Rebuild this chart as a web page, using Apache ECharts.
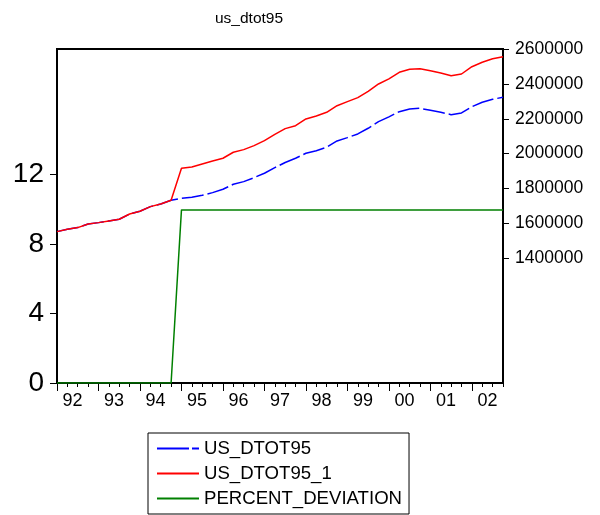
<!DOCTYPE html>
<html>
<head>
<meta charset="utf-8">
<script src="https://cdn.jsdelivr.net/npm/echarts@6/dist/echarts.min.js"></script>
<style>
html,body{margin:0;padding:0;background:#fff;}
#c{width:600px;height:515px;}
</style>
</head>
<body>
<div id="c"></div>
<script>
// Quarterly observations 1992Q1 .. 2002Q4 (44 obs)
var yearLabels = ['92','93','94','95','96','97','98','99','00','01','02'];
var usDtot95 = [
  1553000,1566700,1576000,1597000,1604500,1614300,1624000,1654000,1670000,1696200,1711700,1732900,
  1744400,1750100,1761500,1776500,1796000,1824600,1839500,1862400,1887600,1919700,1949500,1973600,
  2002300,2017000,2036600,2072700,2091700,2112900,2145500,2183400,2211000,2240700,2256100,2260000,
  2248700,2237200,2223500,2233200,2269300,2294500,2311700,2323200
];
var usDtot95_1 = [
  1553000,1566700,1576000,1597000,1604500,1614300,1624000,1654000,1670000,1696200,1711700,1732900,
  1916300,1923700,1941000,1958000,1973600,2008000,2023000,2046000,2074500,2111000,2143500,2160500,
  2199000,2216000,2237200,2275000,2298000,2321000,2357600,2399400,2429000,2466500,2483700,2487100,
  2475600,2462500,2447000,2456700,2498600,2523800,2544400,2555900
];
var percentDeviation = [
  0,0,0,0,0,0,0,0,0,0,0,0,
  9.95,9.95,9.95,9.95,9.95,9.95,9.95,9.95,9.95,9.95,9.95,9.95,
  9.95,9.95,9.95,9.95,9.95,9.95,9.95,9.95,9.95,9.95,9.95,9.95,
  9.95,9.95,9.95,9.95,9.95,9.95,9.95,9.95
];
var leftTicks = [0,4,8,12];
var rightTicks = [1400000,1600000,1800000,2000000,2200000,2400000,2600000];

var n = usDtot95.length;
var minorTicks = [], majorTicks = [], labelPos = [];
for (var i = 0; i < n; i++) { if (i % 4 === 0) majorTicks.push(i); else minorTicks.push(i); }
for (var k = 0; k < yearLabels.length; k++) labelPos.push(k * 4 + 1.5);
function pairs(arr){ return arr.map(function(v,i){ return [i, v]; }); }

var FONT = 'Liberation Sans, Arial, sans-serif';
var chart = echarts.init(document.getElementById('c'), null, {renderer:'canvas'});
chart.setOption({
  animation: false,
  backgroundColor: '#fff',
  title: {
    text: 'us_dtot95', left: 244, top: 6, textAlign: 'center',
    textStyle: {fontFamily: FONT, fontSize: 15.5, fontWeight: 'normal', color: '#000'}
  },
  grid: {left: 57, right: 97, top: 49, bottom: 132, show: true, borderColor: '#000', borderWidth: 2, containLabel: false},
  legend: {
    orient: 'vertical', left: 148, top: 433,
    data: [
      {name: 'US_DTOT95', lineStyle: {type: [32, 3, 8, 3]}},
      {name: 'US_DTOT95_1'},
      {name: 'PERCENT_DEVIATION'}
    ],
    itemWidth: 42, itemHeight: 14, itemGap: 6,
    padding: [6, 7, 6, 8],
    itemStyle: {opacity: 0},
    borderColor: '#000', borderWidth: 1,
    textStyle: {fontFamily: FONT, fontSize: 18.6, color: '#000', lineHeight: 18}
  },
  xAxis: [
    {
      type: 'value', min: 0, max: n - 1, position: 'bottom',
      splitLine: {show: false},
      axisLine: {show: true, onZero: false, lineStyle: {color: '#000', width: 1}},
      axisTick: {show: true, customValues: minorTicks, length: 4, lineStyle: {color: '#000'}},
      axisLabel: {
        show: true, customValues: labelPos, margin: 9,
        fontFamily: FONT, fontSize: 18, color: '#000',
        formatter: function(v){ return yearLabels[Math.round((v - 1.5) / 4)] || ''; }
      }
    },
    {
      type: 'value', min: 0, max: n - 1, position: 'bottom',
      splitLine: {show: false},
      axisLine: {show: false, onZero: false},
      axisTick: {show: true, customValues: majorTicks, length: 8, lineStyle: {color: '#000'}},
      axisLabel: {show: false}
    }
  ],
  yAxis: [
    {
      type: 'value', min: 0, max: 19.2, position: 'left',
      splitLine: {show: false},
      axisLine: {show: true, onZero: false, lineStyle: {color: '#000', width: 2}},
      axisTick: {show: true, customValues: leftTicks, length: 7, lineStyle: {color: '#000'}},
      axisLabel: {customValues: leftTicks, margin: 13, fontFamily: FONT, fontSize: 28, color: '#000'}
    },
    {
      type: 'value', min: 685000, max: 2600000, position: 'right',
      splitLine: {show: false},
      axisLine: {show: true, onZero: false, lineStyle: {color: '#000', width: 1.5}},
      axisTick: {show: true, customValues: rightTicks, length: 6, lineStyle: {color: '#000'}},
      axisLabel: {
        customValues: rightTicks, margin: 12, fontFamily: FONT, fontSize: 17.5, color: '#000',
        formatter: function(v){ return String(Math.round(v)); }
      }
    }
  ],
  series: [
    {
      name: 'PERCENT_DEVIATION', type: 'line', xAxisIndex: 0, yAxisIndex: 0,
      data: pairs(percentDeviation), symbol: 'none', showSymbol: false,
      lineStyle: {color: '#008000', width: 1.5}, itemStyle: {color: '#008000'}
    },
    {
      name: 'US_DTOT95', type: 'line', xAxisIndex: 0, yAxisIndex: 1,
      data: pairs(usDtot95), symbol: 'none', showSymbol: false,
      lineStyle: {color: '#0000ff', width: 1.5, type: [22, 4]}, itemStyle: {color: '#0000ff'}
    },
    {
      name: 'US_DTOT95_1', type: 'line', xAxisIndex: 0, yAxisIndex: 1,
      data: pairs(usDtot95_1), symbol: 'none', showSymbol: false,
      lineStyle: {color: '#ff0000', width: 1.5}, itemStyle: {color: '#ff0000'}
    }
  ]
});
</script>
</body>
</html>
